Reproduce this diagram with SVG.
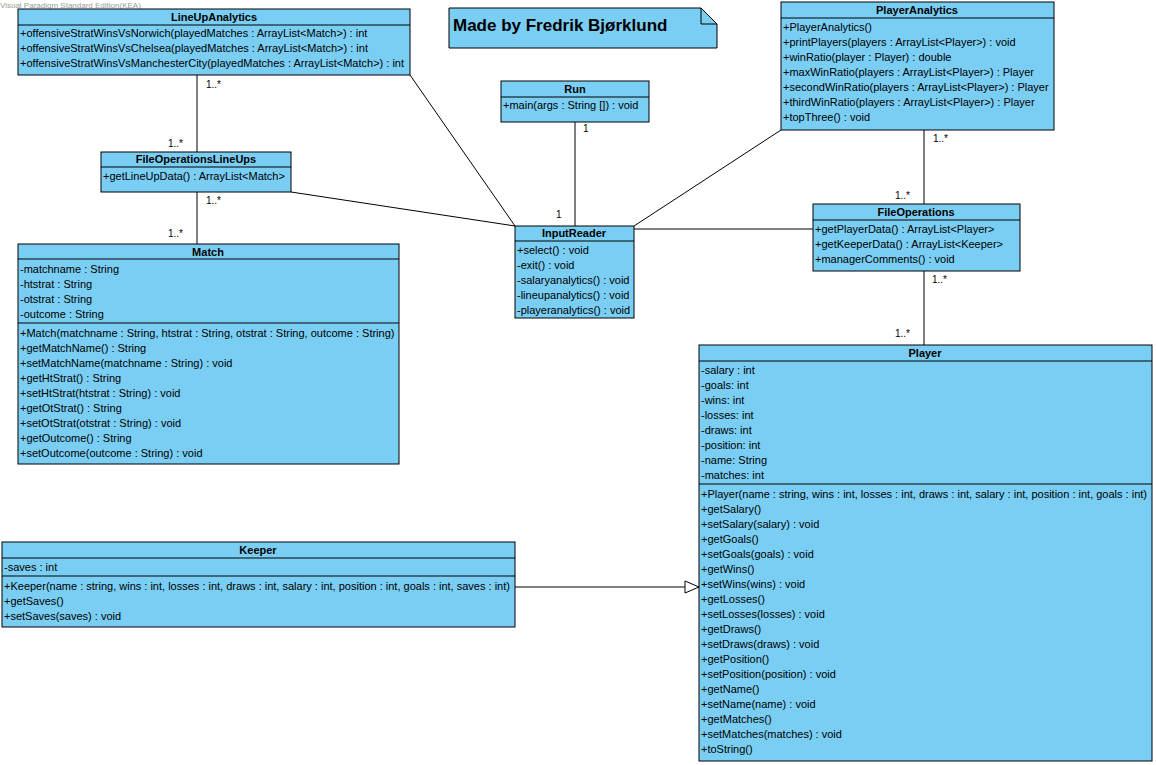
<svg xmlns="http://www.w3.org/2000/svg" width="1156" height="765" viewBox="0 0 1156 765">
<style>
.box{fill:#7acef4;stroke:#000;stroke-width:1}
.div{stroke:#000;stroke-width:1}
.t{font-family:"Liberation Sans",Arial,sans-serif;font-size:11px;fill:#000}
.h{font-family:"Liberation Sans",Arial,sans-serif;font-size:11px;font-weight:bold;fill:#000;text-anchor:middle}
.c{stroke:#000;stroke-width:1;fill:none}
.m{font-family:"Liberation Sans",Arial,sans-serif;font-size:10px;fill:#000}
</style>
<defs>
<marker id="gen" markerWidth="16" markerHeight="14" refX="15" refY="7" orient="auto" markerUnits="userSpaceOnUse">
<path d="M1,1 L15,7 L1,13 Z" fill="#fff" stroke="#000" stroke-width="1"/>
</marker>
</defs>
<rect width="1156" height="765" fill="#fff"/>
<text x="0" y="8" font-family="Liberation Sans,Arial,sans-serif" font-size="8" fill="#9a9a9a">Visual Paradigm Standard Edition(KEA)</text>

<g id="connectors">
<line class="c" x1="197" y1="75" x2="197" y2="152"/>
<line class="c" x1="197" y1="192" x2="197" y2="244"/>
<line class="c" x1="410" y1="75" x2="515" y2="226"/>
<line class="c" x1="291" y1="192" x2="515" y2="226"/>
<line class="c" x1="575" y1="122" x2="575" y2="226"/>
<line class="c" x1="781" y1="130" x2="634" y2="226"/>
<line class="c" x1="634" y1="229" x2="813" y2="229"/>
<line class="c" x1="924" y1="130" x2="924" y2="204"/>
<line class="c" x1="924" y1="271" x2="924" y2="345"/>
<line class="c" x1="515" y1="587" x2="699" y2="587" marker-end="url(#gen)"/>
<text class="m" x="206" y="88">1..*</text>
<text class="m" x="168" y="147">1..*</text>
<text class="m" x="206" y="204">1..*</text>
<text class="m" x="168" y="237">1..*</text>
<text class="m" x="583" y="132">1</text>
<text class="m" x="556" y="218">1</text>
<text class="m" x="933" y="142">1..*</text>
<text class="m" x="895" y="199">1..*</text>
<text class="m" x="932" y="283">1..*</text>
<text class="m" x="895" y="337">1..*</text>
</g>

<g id="note">
<path d="M449,8 H701 L717,24 V48 H449 Z" class="box"/>
<path d="M701,8 V24 H717" class="c"/>
<text x="453" y="31" font-family="Liberation Sans,Arial,sans-serif" font-size="17" font-weight="bold">Made by Fredrik Bjørklund</text>
</g>

<g id="LineUpAnalytics">
<rect class="box" x="18" y="9" width="392" height="66"/>
<line class="div" x1="18" y1="25" x2="410" y2="25"/>
<text class="h" x="214" y="21">LineUpAnalytics</text>
<text class="t" x="20" y="37">+offensiveStratWinsVsNorwich(playedMatches : ArrayList&lt;Match&gt;) : int</text>
<text class="t" x="20" y="52">+offensiveStratWinsVsChelsea(playedMatches : ArrayList&lt;Match&gt;) : int</text>
<text class="t" x="20" y="67">+offensiveStratWinsVsManchesterCity(playedMatches : ArrayList&lt;Match&gt;) : int</text>
</g>

<g id="Run">
<rect class="box" x="501" y="81" width="148" height="41"/>
<line class="div" x1="501" y1="97" x2="649" y2="97"/>
<text class="h" x="575" y="93">Run</text>
<text class="t" x="503" y="109">+main(args : String []) : void</text>
</g>

<g id="PlayerAnalytics">
<rect class="box" x="781" y="2" width="273" height="128"/>
<line class="div" x1="781" y1="18" x2="1054" y2="18"/>
<text class="h" x="917" y="14">PlayerAnalytics</text>
<text class="t" x="783" y="31">+PlayerAnalytics()</text>
<text class="t" x="783" y="46">+printPlayers(players : ArrayList&lt;Player&gt;) : void</text>
<text class="t" x="783" y="61">+winRatio(player : Player) : double</text>
<text class="t" x="783" y="76">+maxWinRatio(players : ArrayList&lt;Player&gt;) : Player</text>
<text class="t" x="783" y="91">+secondWinRatio(players : ArrayList&lt;Player&gt;) : Player</text>
<text class="t" x="783" y="106">+thirdWinRatio(players : ArrayList&lt;Player&gt;) : Player</text>
<text class="t" x="783" y="121">+topThree() : void</text>
</g>

<g id="FileOperationsLineUps">
<rect class="box" x="101" y="152" width="190" height="40"/>
<line class="div" x1="101" y1="167" x2="291" y2="167"/>
<text class="h" x="196" y="163">FileOperationsLineUps</text>
<text class="t" x="103" y="180">+getLineUpData() : ArrayList&lt;Match&gt;</text>
</g>

<g id="InputReader">
<rect class="box" x="515" y="226" width="119" height="92"/>
<line class="div" x1="515" y1="241" x2="634" y2="241"/>
<text class="h" x="574" y="237">InputReader</text>
<text class="t" x="517" y="254">+select() : void</text>
<text class="t" x="517" y="269">-exit() : void</text>
<text class="t" x="517" y="284">-salaryanalytics() : void</text>
<text class="t" x="517" y="299">-lineupanalytics() : void</text>
<text class="t" x="517" y="314">-playeranalytics() : void</text>
</g>

<g id="FileOperations">
<rect class="box" x="813" y="204" width="207" height="67"/>
<line class="div" x1="813" y1="220" x2="1020" y2="220"/>
<text class="h" x="916" y="216">FileOperations</text>
<text class="t" x="815" y="233">+getPlayerData() : ArrayList&lt;Player&gt;</text>
<text class="t" x="815" y="248">+getKeeperData() : ArrayList&lt;Keeper&gt;</text>
<text class="t" x="815" y="263">+managerComments() : void</text>
</g>

<g id="Match">
<rect class="box" x="18" y="244" width="381" height="220"/>
<line class="div" x1="18" y1="259" x2="399" y2="259"/>
<line class="div" x1="18" y1="323" x2="399" y2="323"/>
<text class="h" x="208" y="256">Match</text>
<text class="t" x="20" y="273">-matchname : String</text>
<text class="t" x="20" y="288">-htstrat : String</text>
<text class="t" x="20" y="303">-otstrat : String</text>
<text class="t" x="20" y="318">-outcome : String</text>
<text class="t" x="20" y="337">+Match(matchname : String, htstrat : String, otstrat : String, outcome : String)</text>
<text class="t" x="20" y="352">+getMatchName() : String</text>
<text class="t" x="20" y="367">+setMatchName(matchname : String) : void</text>
<text class="t" x="20" y="382">+getHtStrat() : String</text>
<text class="t" x="20" y="397">+setHtStrat(htstrat : String) : void</text>
<text class="t" x="20" y="412">+getOtStrat() : String</text>
<text class="t" x="20" y="427">+setOtStrat(otstrat : String) : void</text>
<text class="t" x="20" y="442">+getOutcome() : String</text>
<text class="t" x="20" y="457">+setOutcome(outcome : String) : void</text>
</g>

<g id="Keeper">
<rect class="box" x="2" y="542" width="513" height="85"/>
<line class="div" x1="2" y1="558" x2="515" y2="558"/>
<line class="div" x1="2" y1="576" x2="515" y2="576"/>
<text class="h" x="258" y="554">Keeper</text>
<text class="t" x="4" y="571">-saves : int</text>
<text class="t" x="4" y="590">+Keeper(name : string, wins : int, losses : int, draws : int, salary : int, position : int, goals : int, saves : int)</text>
<text class="t" x="4" y="605">+getSaves()</text>
<text class="t" x="4" y="620">+setSaves(saves) : void</text>
</g>

<g id="Player">
<rect class="box" x="699" y="345" width="453" height="416"/>
<line class="div" x1="699" y1="361" x2="1152" y2="361"/>
<line class="div" x1="699" y1="484" x2="1152" y2="484"/>
<text class="h" x="925" y="357">Player</text>
<text class="t" x="701" y="374">-salary : int</text>
<text class="t" x="701" y="389">-goals: int</text>
<text class="t" x="701" y="404">-wins: int</text>
<text class="t" x="701" y="419">-losses: int</text>
<text class="t" x="701" y="434">-draws: int</text>
<text class="t" x="701" y="449">-position: int</text>
<text class="t" x="701" y="464">-name: String</text>
<text class="t" x="701" y="479">-matches: int</text>
<text class="t" x="701" y="498">+Player(name : string, wins : int, losses : int, draws : int, salary : int, position : int, goals : int)</text>
<text class="t" x="701" y="513">+getSalary()</text>
<text class="t" x="701" y="528">+setSalary(salary) : void</text>
<text class="t" x="701" y="543">+getGoals()</text>
<text class="t" x="701" y="558">+setGoals(goals) : void</text>
<text class="t" x="701" y="573">+getWins()</text>
<text class="t" x="701" y="588">+setWins(wins) : void</text>
<text class="t" x="701" y="603">+getLosses()</text>
<text class="t" x="701" y="618">+setLosses(losses) : void</text>
<text class="t" x="701" y="633">+getDraws()</text>
<text class="t" x="701" y="648">+setDraws(draws) : void</text>
<text class="t" x="701" y="663">+getPosition()</text>
<text class="t" x="701" y="678">+setPosition(position) : void</text>
<text class="t" x="701" y="693">+getName()</text>
<text class="t" x="701" y="708">+setName(name) : void</text>
<text class="t" x="701" y="723">+getMatches()</text>
<text class="t" x="701" y="738">+setMatches(matches) : void</text>
<text class="t" x="701" y="753">+toString()</text>
</g>
</svg>
